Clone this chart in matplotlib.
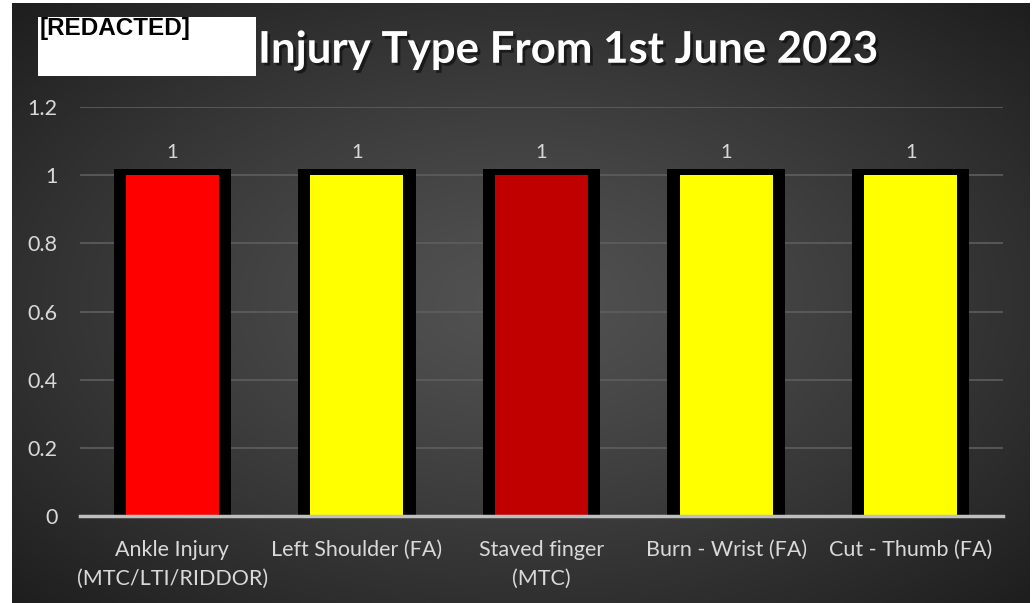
import numpy as np
import matplotlib
matplotlib.use('Agg')
import matplotlib.pyplot as plt
import matplotlib.patheffects as pe
from matplotlib.patches import Rectangle

# chart data
categories = ['Ankle Injury\n(MTC/LTI/RIDDOR)', 'Left Shoulder (FA)', 'Staved finger\n(MTC)',
              'Burn - Wrist (FA)', 'Cut - Thumb (FA)']
counts = [1, 1, 1, 1, 1]
bar_colors = ['#ff0000', '#ffff00', '#c00000', '#ffff00', '#ffff00']
yticks = [0, 0.2, 0.4, 0.6, 0.8, 1, 1.2]
ytick_labels = ['0', '0.2', '0.4', '0.6', '0.8', '1', '1.2']
title = 'Injury Type From 1st June 2023'

W, H = 1036, 603
fig = plt.figure(figsize=(W / 100, H / 100), dpi=100)
fig.patch.set_facecolor('white')

# dark radial gradient background
bg = fig.add_axes([12 / W, 0, 1018 / W, 600 / H])
gx, gy = np.meshgrid(np.linspace(-1, 1, 400), np.linspace(-1, 1, 240))
r = np.sqrt(gx ** 2 + gy ** 2) / np.sqrt(2)
shade = (0x52 - (0x52 - 0x1e) * r ** 1.2) / 255.0
bg.imshow(np.dstack([shade, shade, shade]), aspect='auto', extent=[0, 1, 0, 1])
bg.set_axis_off()

ax = fig.add_axes([80 / W, 1 - 516 / H, 923 / W, (516 - 107) / H])
ax.set_facecolor('none')
x = np.arange(len(categories))
# thick black outline drawn behind, fill on top so the bottom edge stays hidden
bars = ax.bar(x, counts, width=0.57, color='black', edgecolor='black', linewidth=8.6, zorder=3)
ax.bar(x, counts, width=0.504, color=bar_colors, linewidth=0, zorder=3.5)
ax.bar_label(bars, labels=[str(c) for c in counts], padding=10, color='#d9d9d9',
             fontsize=14.5, family='Lato')

ax.set_xlim(-0.5, len(categories) - 0.5)
ax.set_ylim(0, 1.2)
ax.set_yticks(yticks)
ax.set_yticklabels(ytick_labels)
ax.set_xticks(x)
ax.set_xticklabels(categories, linespacing=1.55)
ax.grid(axis='y', color='#5e5e5e', linewidth=1.2, zorder=0)
for s in ['top', 'right', 'left']:
    ax.spines[s].set_visible(False)
ax.spines['bottom'].set_color('#bfbfbf')
ax.spines['bottom'].set_linewidth(2.5)
ax.spines['bottom'].set_zorder(4)
ax.tick_params(axis='both', length=0, colors='#d9d9d9', labelsize=15.5)
ax.tick_params(axis='y', pad=16)
ax.tick_params(axis='x', pad=17)
for lbl in ax.get_xticklabels() + ax.get_yticklabels():
    lbl.set_family('Lato')

fig.text(258 / W, 1 - 50 / H, title, color='white', fontsize=31.5, fontweight='bold',
         family='Lato', ha='left', va='center',
         path_effects=[pe.SimplePatchShadow(offset=(2, -2), shadow_rgbFace='black', alpha=0.5),
                       pe.Normal()])

# redacted box over the start of the title
fig.patches.append(Rectangle((38 / W, 1 - 76 / H), 218 / W, 59 / H, transform=fig.transFigure,
                             facecolor='white', edgecolor='none', zorder=5))
fig.text(40 / W, 1 - 29 / H, '[REDACTED]', color='black', fontsize=17.5, fontweight='bold',
         family=['Liberation Sans Narrow', 'Liberation Sans'], ha='left', va='center', zorder=6)

fig.savefig('out.png', dpi=100, facecolor=fig.get_facecolor())
